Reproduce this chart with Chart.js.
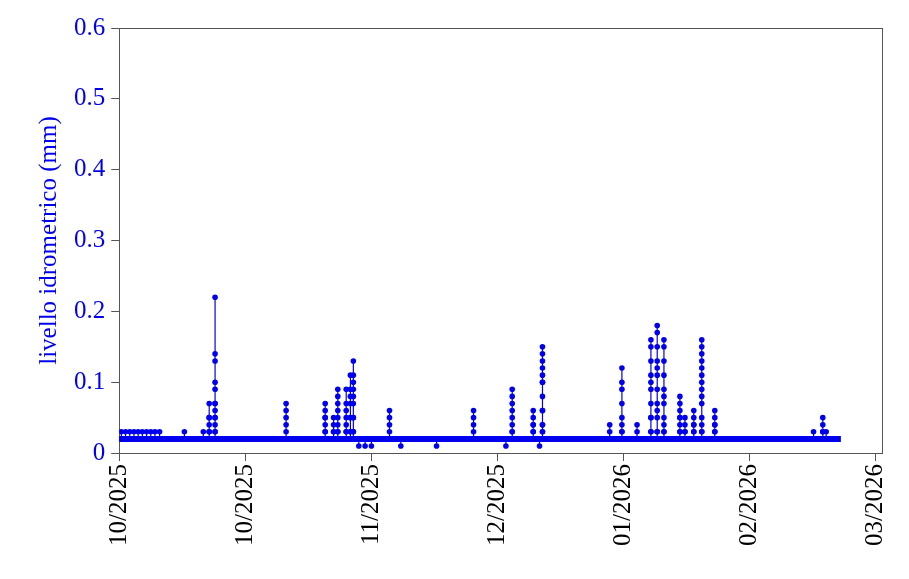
<!DOCTYPE html>
<html><head><meta charset="utf-8">
<script src="https://cdn.jsdelivr.net/npm/chart.js@4"></script>
<style>html,body{margin:0;padding:0;background:#fff}#w{width:909px;height:579px}</style>
</head><body><div id="w"><canvas id="c"></canvas></div>
<script>
const xTickDays = [0,30,60,90,120,150,180];
const xTickLabels = ["10/2025","10/2025","11/2025","12/2025","01/2026","02/2026","03/2026"];
const yTicks = [0,0.1,0.2,0.3,0.4,0.5,0.6];
const baseDays = [0,171.7];
const baseLevel = [0.02,0.02];
// spike events: day, sequence of readings
const spikeDays = [0.5,1.5,2.5,3.5,4.5,5.5,6.5,7.5,8.5,9.6,15.5,20,21.4,22.8,39.7,49,51,52,54,55,55.7,57,58.5,60,64.3,67,75.5,84.3,92,93.5,98.5,100,100.7,116.7,119.6,123.2,126.5,128,129.6,133.4,134.6,136.7,138.6,141.7,165.2,167.4,168.2];
const spikeVals = [
 [0.03],[0.03],[0.03],[0.03],[0.03],[0.03],[0.03],[0.03],[0.03],[0.03],[0.03],[0.03],
 [0.03,0.04,0.05,0.07,0.05,0.03],
 [0.03,0.04,0.05,0.06,0.07,0.09,0.1,0.13,0.14,0.22,0.07,0.05,0.03],
 [0.03,0.04,0.05,0.06,0.07],
 [0.03,0.04,0.05,0.06,0.07,0.05,0.03],
 [0.03,0.04,0.05,0.03],
 [0.03,0.05,0.07,0.08,0.09,0.06,0.04,0.03],
 [0.03,0.05,0.07,0.09,0.06,0.04,0.03],
 [0.03,0.05,0.07,0.09,0.11,0.08,0.05,0.03],
 [0.03,0.05,0.07,0.09,0.1,0.11,0.13,0.08,0.05,0.03],
 [0.01],[0.01],[0.01],
 [0.03,0.04,0.05,0.06],
 [0.01],[0.01],
 [0.03,0.04,0.05,0.06],
 [0.01],
 [0.03,0.05,0.07,0.08,0.09,0.06,0.04,0.03],
 [0.03,0.04,0.05,0.06,0.04,0.03],
 [0.01],
 [0.03,0.04,0.06,0.08,0.1,0.11,0.12,0.13,0.14,0.15,0.1,0.06,0.04,0.03],
 [0.03,0.04],
 [0.03,0.05,0.07,0.09,0.1,0.12,0.04,0.03],
 [0.03,0.04],
 [0.03,0.05,0.07,0.09,0.11,0.13,0.15,0.16,0.1,0.05,0.03],
 [0.03,0.05,0.07,0.09,0.11,0.13,0.15,0.17,0.18,0.12,0.06,0.03],
 [0.03,0.05,0.07,0.09,0.11,0.13,0.15,0.16,0.08,0.04,0.03],
 [0.03,0.04,0.05,0.06,0.07,0.08,0.05,0.03],
 [0.03,0.04,0.05,0.03],
 [0.03,0.04,0.05,0.06,0.04,0.03],
 [0.03,0.05,0.07,0.09,0.1,0.11,0.12,0.13,0.14,0.15,0.16,0.08,0.04,0.03],
 [0.03,0.04,0.05,0.06,0.04,0.03],
 [0.03],
 [0.03,0.04,0.05,0.03],
 [0.03]
];
const spikePts = [];
spikeDays.forEach((d,i)=>{ spikePts.push({x:d,y:0.02}); spikeVals[i].forEach(v=>spikePts.push({x:d,y:v})); spikePts.push({x:d,y:0.02}); spikePts.push({x:d,y:null}); });
const blue = '#0000ee';
const font = {family:'Liberation Serif, Tinos, Times New Roman, Times, serif', size:25};
new Chart(document.getElementById('c'), {
 type:'line',
 data:{datasets:[
  {data:baseDays.map((d,i)=>({x:d,y:baseLevel[i]})), borderColor:blue, borderWidth:6, pointRadius:0},
  {data:spikePts, borderColor:blue, backgroundColor:blue, borderWidth:1.2, pointRadius:2.8, pointBorderWidth:0, spanGaps:false}
 ]},
 options:{
  responsive:true, maintainAspectRatio:false, animation:false,
  layout:{padding:{top:20,right:14,left:30,bottom:30}},
  plugins:{legend:{display:false},tooltip:{enabled:false}},
  scales:{
   x:{type:'linear', min:0, max:181.6,
      afterBuildTicks:a=>{a.ticks=xTickDays.map(v=>({value:v}));},
      ticks:{color:'#000', font, maxRotation:90, minRotation:90, autoSkip:false,
             callback:(v)=>xTickLabels[xTickDays.indexOf(v)]},
      grid:{drawOnChartArea:false, color:'#555', tickLength:8},
      border:{color:'#555'}},
   y:{min:0, max:0.6,
      afterBuildTicks:a=>{a.ticks=yTicks.map(v=>({value:v}));},
      ticks:{color:blue, font, padding:6, callback:v=>String(Math.round(v*10)/10)},
      title:{display:true, text:'livello idrometrico (mm)', color:blue, font, padding:4},
      grid:{drawOnChartArea:false, color:'#555', tickLength:8},
      border:{color:'#555'}},
   x2:{type:'linear', position:'top', min:0, max:1, ticks:{display:false}, grid:{display:false}, border:{color:'#555'}},
   y2:{position:'right', min:0, max:1, ticks:{display:false}, grid:{display:false}, border:{color:'#555'}}
  }
 }
});
</script></body></html>
